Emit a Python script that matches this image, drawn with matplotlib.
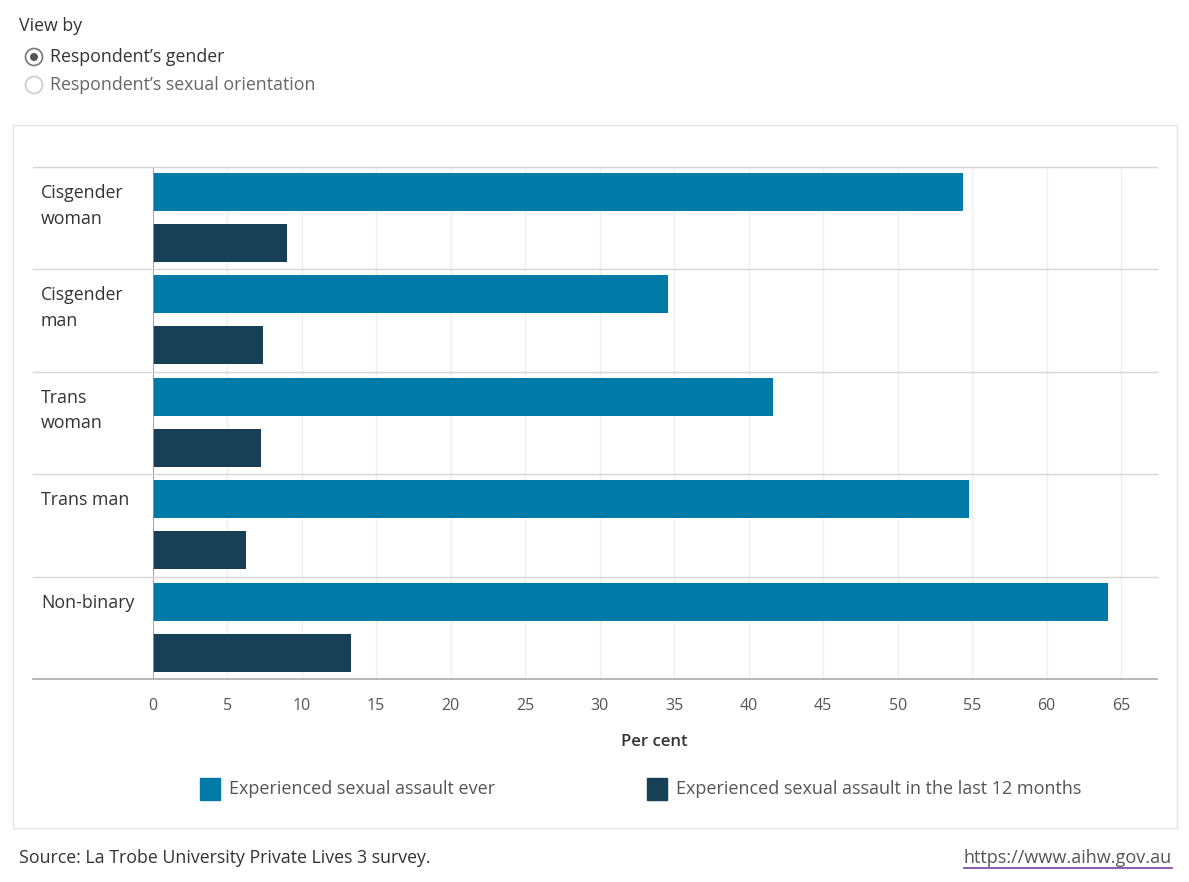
import matplotlib
matplotlib.use("Agg")
import matplotlib.pyplot as plt
from matplotlib.patches import Rectangle, Circle
from matplotlib.lines import Line2D

plt.rcParams['font.family'] = ['Open Sans', 'DejaVu Sans']

categories = ["Cisgender\nwoman", "Cisgender\nman", "Trans\nwoman", "Trans man", "Non-binary"]
ever = [54.4, 34.6, 41.6, 54.8, 64.1]
last_12 = [9.0, 7.4, 7.3, 6.3, 13.3]
series_names = ["Experienced sexual assault ever",
                "Experienced sexual assault in the last 12 months"]
colors = ["#007BA7", "#173F55"]
x_ticks = list(range(0, 70, 5))

W, H = 1189, 882
fig = plt.figure(figsize=(W / 100, H / 100), dpi=100)

def fx(px):
    return px / W

def fy(py):
    return 1 - py / H

# outer chart box
fig.add_artist(Rectangle((fx(13), fy(828)), fx(1177) - fx(13), fy(125) - fy(828),
                         transform=fig.transFigure, fill=False, edgecolor="#e4e4e4", lw=1))

# header / radio buttons (circles in inches so they stay round)
fig.text(fx(19), fy(26), "View by", fontsize=12.8, color="#333333", va="center")
fig.add_artist(Circle((0.34, (H - 57) / 100), 0.085, transform=fig.dpi_scale_trans,
                      fill=False, edgecolor="#777777", lw=1.2))
fig.add_artist(Circle((0.34, (H - 57) / 100), 0.04, transform=fig.dpi_scale_trans,
                      facecolor="#555555", edgecolor="none"))
fig.add_artist(Circle((0.34, (H - 85) / 100), 0.085, transform=fig.dpi_scale_trans,
                      fill=False, edgecolor="#cccccc", lw=1.2))
fig.text(fx(50), fy(57), "Respondent\u2019s gender", fontsize=12.8, color="#333333", va="center")
fig.text(fx(50), fy(85), "Respondent\u2019s sexual orientation", fontsize=12.8, color="#666666", va="center")

# main axes
ax = fig.add_axes([fx(152.6), fy(679), fx(1157) - fx(152.6), fy(167) - fy(679)])
n = len(categories)
unit = 102.4
bar_h = 38 / unit
y_ever = [i + 25 / unit for i in range(n)]
y_last = [i + 76 / unit for i in range(n)]
ax.barh(y_ever, ever, height=bar_h, color=colors[0], zorder=3)
ax.barh(y_last, last_12, height=bar_h, color=colors[1], zorder=3)
ax.set_ylim(n, 0)
ax.set_xlim(0, 67.4)
for s in ax.spines.values():
    s.set_visible(False)
ax.set_yticks([])
ax.set_xticks(x_ticks)
ax.set_xticklabels([str(t) for t in x_ticks], fontsize=11.5, color="#555555")
ax.tick_params(axis="x", length=0, pad=14)
ax.grid(axis="x", color="#efefef", lw=1, zorder=0)
ax.set_xlabel("Per cent", fontsize=12, color="#333333", labelpad=14, fontweight="semibold")
ax.axvline(0, color="#999999", lw=1.2, zorder=4)

# row separators extending left of axes
for i in range(n + 1):
    yy = fy(167) + (fy(679) - fy(167)) * i / n
    c = "#aaaaaa" if i == n else "#d6d6d6"
    fig.add_artist(Line2D([fx(33), fx(1157)], [yy, yy], transform=fig.transFigure,
                          color=c, lw=1.2 if i == n else 1))
for i, cat in enumerate(categories):
    yy = fy(167) + (fy(679) - fy(167)) * i / n
    fig.text(fx(41), yy - 17 / H, cat, fontsize=12.8, color="#333333", va="top",
             linespacing=1.55)

# legend
for px, name, c in [(200, series_names[0], colors[0]), (647, series_names[1], colors[1])]:
    fig.add_artist(Rectangle((fx(px), fy(800)), 20 / W, 22 / H,
                             transform=fig.transFigure, color=c))
    fig.text(fx(px + 29), fy(789), name, fontsize=13, color="#555555", va="center")

# footer
fig.text(fx(19), fy(858), "Source: La Trobe University Private Lives 3 survey.",
         fontsize=12.8, color="#333333", va="center")
url = fig.text(fx(1172), fy(858), "https://www.aihw.gov.au", fontsize=13, color="#555555",
               va="center", ha="right")
fig.canvas.draw()
bb = url.get_window_extent().transformed(fig.transFigure.inverted())
fig.add_artist(Line2D([bb.x0, bb.x1], [fy(868), fy(868)], transform=fig.transFigure,
                      color="#7b3fa0", lw=1.2))

fig.savefig("out.png", dpi=100)
